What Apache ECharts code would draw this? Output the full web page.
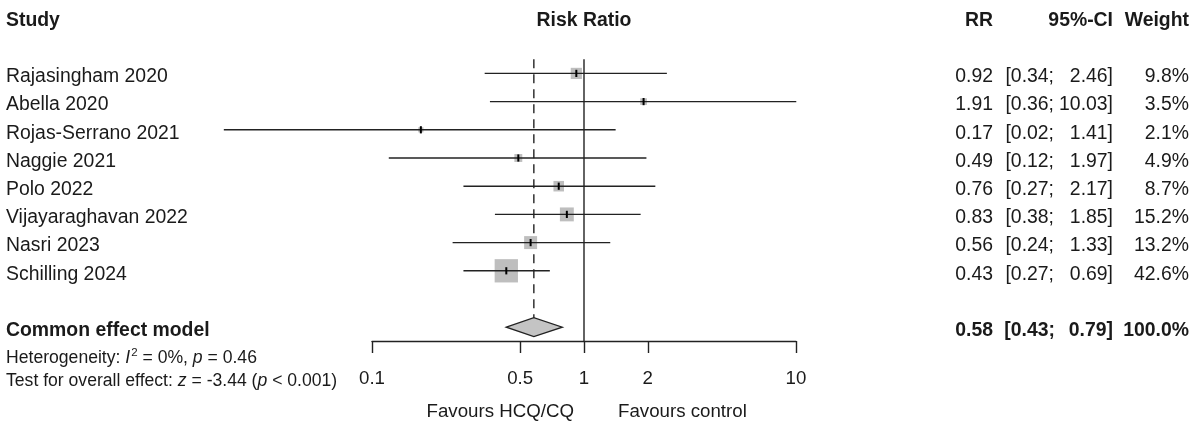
<!DOCTYPE html>
<html>
<head>
<meta charset="utf-8">
<script src="https://cdn.jsdelivr.net/npm/echarts@6/dist/echarts.min.js"></script>
<style>html,body{margin:0;padding:0;background:#fff;}#c{width:1200px;height:425px;}</style>
</head>
<body>
<div id="c"></div>
<script>
// ---- data ----
const studies = ['Rajasingham 2020','Abella 2020','Rojas-Serrano 2021','Naggie 2021','Polo 2022','Vijayaraghavan 2022','Nasri 2023','Schilling 2024'];
const rr      = [0.92, 1.91, 0.17, 0.49, 0.76, 0.83, 0.56, 0.43];
const lower   = [0.34, 0.36, 0.02, 0.12, 0.27, 0.38, 0.24, 0.27];
const upper   = [2.46, 10.03, 1.41, 1.97, 2.17, 1.85, 1.33, 0.69];
const weight  = [9.8, 3.5, 2.1, 4.9, 8.7, 15.2, 13.2, 42.6];
const pooledRR = 0.58, pooledLower = 0.43, pooledUpper = 0.79, pooledWeight = 100.0;
const pooledLabel = 'Common effect model';
const tickValues = [0.1, 0.5, 1, 2, 10];
const tickLabels = ['0.1', '0.5', '1', '2', '10'];
const hetText = ['Heterogeneity: ', 'I', '2', ' = 0%, ', 'p', ' = 0.46'];
const testText = ['Test for overall effect: ', 'z', ' = -3.44 (', 'p', ' < 0.001)'];
const leftLabel = 'Favours HCQ/CQ', rightLabel = 'Favours control';

// ---- layout ----
const FONT = '"Liberation Sans", Arial, Helvetica, sans-serif';
const INK = '#1a1a1a';
const LINE = '#222';
const BOX = '#bebebe';
const POOLED_ROW = 9;
const TEXT_DY = 3.5;
const MAIN_SIZE = 19.4;
const fmt2 = v => v.toFixed(2);
const fmtW = v => v.toFixed(1) + '%';

// text cells: x in text-grid units (pixels), row in row units
const cells = [];
function cell(x, row, text, align, opts) { cells.push(Object.assign({x, row, text, align}, opts || {})); }
cell(6, -2, 'Study', 'left', {bold: true});
cell(584, -2, 'Risk Ratio', 'center', {bold: true});
cell(993, -2, 'RR', 'right', {bold: true});
cell(1113, -2, '95%-CI', 'right', {bold: true});
cell(1189, -2, 'Weight', 'right', {bold: true});
studies.forEach((s, i) => {
  cell(6, i, s, 'left');
  cell(993, i, fmt2(rr[i]), 'right');
  cell(1054, i, '[' + fmt2(lower[i]) + ';', 'right');
  cell(1113, i, fmt2(upper[i]) + ']', 'right');
  cell(1189, i, fmtW(weight[i]), 'right');
});
cell(6, POOLED_ROW, pooledLabel, 'left', {bold: true});
cell(993, POOLED_ROW, fmt2(pooledRR), 'right', {bold: true});
cell(1055, POOLED_ROW, '[' + fmt2(pooledLower) + ';', 'right', {bold: true});
cell(1113, POOLED_ROW, fmt2(pooledUpper) + ']', 'right', {bold: true});
cell(1189, POOLED_ROW, pooledWeight.toFixed(1) + '%', 'right', {bold: true});
cell(6, 9.97, '{n|' + hetText[0] + '}{i|' + hetText[1] + '}{s|' + hetText[2] + '}{n|' + hetText[3] + '}{i|' + hetText[4] + '}{n|' + hetText[5] + '}', 'left', {rich: true});
cell(6, 10.78, '{n|' + testText[0] + '}{i|' + testText[1] + '}{n|' + testText[2] + '}{i|' + testText[3] + '}{n|' + testText[4] + '}', 'left', {rich: true});
cell(574, 11.88, leftLabel, 'right', {size: 18.7});
cell(618, 11.88, rightLabel, 'left', {size: 18.7});

const richStyles = {
  n: {fontSize: 17.6, fontFamily: FONT, fill: INK, lineHeight: 22},
  i: {fontSize: 17.6, fontFamily: FONT, fontStyle: 'italic', fill: INK, lineHeight: 22},
  s: {fontSize: 11.5, fontFamily: FONT, fill: INK, verticalAlign: 'top', lineHeight: 22, padding: [0, 0, 9, 1]}
};

const chart = echarts.init(document.getElementById('c'), null, {renderer: 'canvas'});

const yAx = (gi) => ({type: 'value', gridIndex: gi, min: -2, max: 11, inverse: true, show: false});

const option = {
  animation: false,
  backgroundColor: '#fff',
  grid: [
    {left: 160, width: 848, top: 17, height: 366.6},   // plot (log 0.01..100)
    {left: 372, width: 424, top: 300, height: 41},     // visible axis (0.1..10)
    {left: 0, right: 0, top: 17, height: 366.6}        // text table
  ],
  xAxis: [
    {type: 'log', logBase: 10, gridIndex: 0, min: 0.01, max: 100, show: false},
    {type: 'log', logBase: 10, gridIndex: 1, min: 0.1, max: 10, position: 'bottom',
      axisLine: {show: true, lineStyle: {color: LINE, width: 1.4}},
      axisTick: {show: true, length: 12, lineStyle: {color: LINE, width: 1.4}, customValues: tickValues},
      axisLabel: {show: true, margin: 28, fontSize: 18.7, fontFamily: FONT, color: INK, customValues: tickValues,
        formatter: v => { const k = tickValues.findIndex(t => Math.abs(t - v) < 1e-9); return k >= 0 ? tickLabels[k] : ''; }},
      splitLine: {show: false}, minorTick: {show: false}},
    {type: 'value', gridIndex: 2, min: 0, max: 1200, show: false}
  ],
  yAxis: [yAx(0), {type: 'value', gridIndex: 1, min: 0, max: 1, show: false}, yAx(2)],
  series: [
    // reference line at no effect
    {type: 'line', xAxisIndex: 0, yAxisIndex: 0, data: [[1, -0.5], [1, 9.49]], symbol: 'none',
      lineStyle: {color: LINE, width: 1.4}, z: 1},
    // pooled estimate dashed line
    {type: 'line', xAxisIndex: 0, yAxisIndex: 0, data: [[pooledRR, -0.5], [pooledRR, 8.67]], symbol: 'none',
      lineStyle: {color: LINE, width: 1.4, type: [9, 6]}, z: 1},
    // studies
    {type: 'custom', xAxisIndex: 0, yAxisIndex: 0, clip: false, z: 3,
      data: studies.map((s, i) => [rr[i], i, lower[i], upper[i], weight[i]]),
      renderItem: (params, api) => {
        const row = api.value(1);
        const c = api.coord([api.value(0), row]);
        const lo = api.coord([api.value(2), row]);
        const hi = api.coord([api.value(3), row]);
        const side = 3.57 * Math.sqrt(api.value(4));
        return {type: 'group', children: [
          {type: 'rect', shape: {x: c[0] - side / 2, y: c[1] - side / 2, width: side, height: side}, style: {fill: BOX}},
          {type: 'line', shape: {x1: lo[0], y1: lo[1], x2: hi[0], y2: hi[1]}, style: {stroke: LINE, lineWidth: 1.4}},
          {type: 'line', shape: {x1: c[0], y1: c[1] - 3.6, x2: c[0], y2: c[1] + 3.6}, style: {stroke: '#000', lineWidth: 2}}
        ]};
      }},
    // pooled diamond
    {type: 'custom', xAxisIndex: 0, yAxisIndex: 0, clip: false, z: 3,
      data: [[pooledRR, POOLED_ROW, pooledLower, pooledUpper]],
      renderItem: (params, api) => {
        const row = api.value(1), h = 0.335;
        const l = api.coord([api.value(2), row]);
        const r = api.coord([api.value(3), row]);
        const t = api.coord([api.value(0), row - h]);
        const b = api.coord([api.value(0), row + h]);
        return {type: 'polygon', shape: {points: [l, t, r, b]},
          style: {fill: '#c4c4c4', stroke: LINE, lineWidth: 1.3}};
      }},
    // text table
    {type: 'custom', xAxisIndex: 2, yAxisIndex: 2, clip: false, z: 5,
      data: cells.map(c => [c.x, c.row]),
      renderItem: (params, api) => {
        const c = cells[params.dataIndex];
        const p = api.coord([api.value(0), api.value(1)]);
        const style = {text: c.text, x: p[0], y: p[1] + TEXT_DY, align: c.align, verticalAlign: 'middle', fill: INK,
          font: (c.bold ? 'bold ' : '') + (c.size || MAIN_SIZE) + 'px ' + FONT};
        if (c.rich) { style.rich = richStyles; style.font = '17.6px ' + FONT; }
        return {type: 'text', style};
      }}
  ]
};
chart.setOption(option);
</script>
</body>
</html>
